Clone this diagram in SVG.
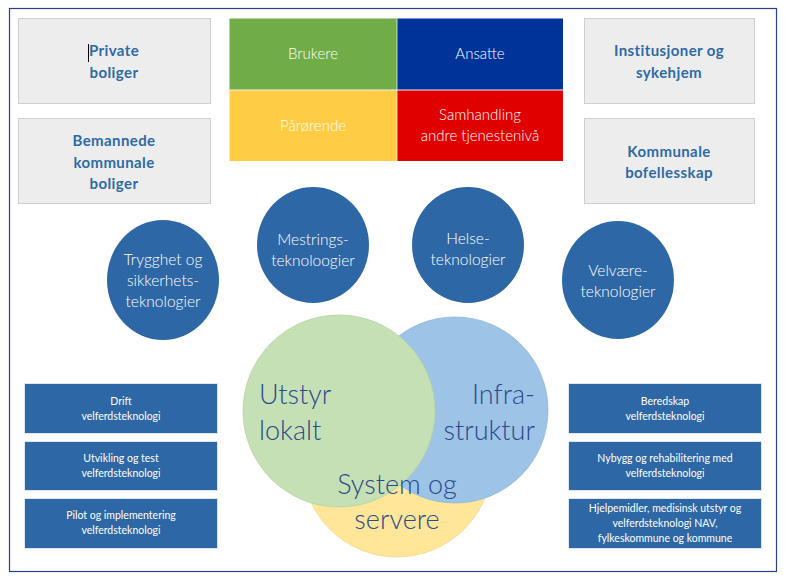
<svg xmlns="http://www.w3.org/2000/svg" width="787" height="584" viewBox="0 0 787 584">
<style>
.gbox{fill:#ededed;stroke:#cfcfcf;stroke-width:1}
.gtxt{font-family:Lato,"Open Sans","Liberation Sans",sans-serif;font-weight:700;font-size:15px;fill:#2e6aa6;text-anchor:middle;letter-spacing:0.4px}
.ctxt{font-family:Lato,"Open Sans","Liberation Sans",sans-serif;font-weight:300;font-size:15.5px;fill:#ffffff;text-anchor:middle}
.circ{fill:#2e67a5}
.sbox{fill:#2e67a5;stroke:#dfe6ef;stroke-width:1}
.stxt{font-family:Lato,"Open Sans","Liberation Sans",sans-serif;font-weight:400;font-size:10.5px;fill:#ffffff;text-anchor:middle}
.vtxt{font-family:Lato,"Open Sans","Liberation Sans",sans-serif;font-weight:300;font-size:27px;fill:#2a4a8c}
</style>
<rect x="0" y="0" width="787" height="584" fill="#ffffff"/>
<rect x="9.5" y="8.5" width="767" height="563" fill="none" stroke="#2a3f8f" stroke-width="1.2"/>

<g id="private-boliger">
<rect class="gbox" x="18.5" y="18.5" width="192" height="85"/>
<text class="gtxt" x="114" y="56">Private</text>
<text class="gtxt" x="114" y="78">boliger</text>
<line x1="88.5" y1="44" x2="88.5" y2="62" stroke="#000" stroke-width="1"/>
</g>
<g id="bemannede">
<rect class="gbox" x="18.5" y="118.5" width="192" height="85"/>
<text class="gtxt" x="114" y="146">Bemannede</text>
<text class="gtxt" x="114" y="168">kommunale</text>
<text class="gtxt" x="114" y="189">boliger</text>
</g>
<g id="institusjoner">
<rect class="gbox" x="584.5" y="18.5" width="170" height="85"/>
<text class="gtxt" x="669" y="56">Institusjoner og</text>
<text class="gtxt" x="669" y="78">sykehjem</text>
</g>
<g id="bofellesskap">
<rect class="gbox" x="584.5" y="118.5" width="170" height="85"/>
<text class="gtxt" x="669" y="157">Kommunale</text>
<text class="gtxt" x="669" y="178">bofellesskap</text>
</g>

<g id="brukere">
<rect x="229.5" y="18.5" width="167.5" height="71.5" fill="#70ad47"/>
<text class="ctxt" x="313" y="59" style="font-size:15px">Brukere</text>
</g>
<g id="ansatte">
<rect x="397" y="18.5" width="166" height="71.5" fill="#003399"/>
<text class="ctxt" x="480" y="59" style="font-size:15px">Ansatte</text>
</g>
<g id="parorende">
<rect x="229.5" y="90" width="167.5" height="71" fill="#ffcc44"/>
<text class="ctxt" x="313" y="131" style="font-size:15px">Pårørende</text>
</g>
<g id="samhandling">
<rect x="397" y="90" width="166" height="71" fill="#e00000"/>
<text class="ctxt" x="480" y="120" style="font-size:15px">Samhandling</text>
<text class="ctxt" x="480" y="141" style="font-size:15px">andre tjenestenivå</text>
</g>
<line x1="229.5" y1="90" x2="563" y2="90" stroke="#f0f0f0" stroke-width="1"/>
<line x1="397" y1="18.5" x2="397" y2="161" stroke="#f0f0f0" stroke-width="0.8"/>

<g id="trygghet">
<ellipse class="circ" cx="163" cy="280" rx="56" ry="60"/>
<text class="ctxt" x="163" y="265">Trygghet og</text>
<text class="ctxt" x="163" y="286">sikkerhets-</text>
<text class="ctxt" x="163" y="307">teknologier</text>
</g>
<g id="mestrings">
<ellipse class="circ" cx="313" cy="245" rx="56" ry="58"/>
<text class="ctxt" x="313" y="245">Mestrings-</text>
<text class="ctxt" x="313" y="266">teknoloogier</text>
</g>
<g id="helse">
<ellipse class="circ" cx="468" cy="245" rx="56" ry="58"/>
<text class="ctxt" x="468" y="244">Helse-</text>
<text class="ctxt" x="468" y="265">teknologier</text>
</g>
<g id="velvaere">
<ellipse class="circ" cx="618" cy="280" rx="56" ry="59"/>
<text class="ctxt" x="618" y="276">Velvære-</text>
<text class="ctxt" x="618" y="297">teknologier</text>
</g>

<g id="system-og-servere">
<circle cx="397" cy="462" r="95" fill="#ffe699" stroke="#f2d88a" stroke-width="0.8"/>
</g>
<g id="infrastruktur">
<circle cx="455" cy="410" r="93" fill="#9dc3e6" stroke="#90b7dc" stroke-width="0.8"/>
</g>
<g id="utstyr-lokalt">
<circle cx="339" cy="411" r="96" fill="#c5e0b4" stroke="#b5d3a2" stroke-width="0.8"/>
</g>
<g id="venn-labels">
<text class="vtxt" x="259" y="404">Utstyr</text>
<text class="vtxt" x="259" y="440">lokalt</text>
<text class="vtxt" x="535" y="404" text-anchor="end">Infra-</text>
<text class="vtxt" x="535" y="440" text-anchor="end">struktur</text>
<text class="vtxt" x="397" y="494" text-anchor="middle">System og</text>
<text class="vtxt" x="397" y="529" text-anchor="middle">servere</text>
</g>

<g id="drift">
<rect class="sbox" x="24.5" y="383.5" width="193" height="50"/>
<text class="stxt" x="121" y="405">Drift</text>
<text class="stxt" x="121" y="420">velferdsteknologi</text>
</g>
<g id="utvikling">
<rect class="sbox" x="24.5" y="441.5" width="193" height="49"/>
<text class="stxt" x="121" y="462">Utvikling og test</text>
<text class="stxt" x="121" y="477">velferdsteknologi</text>
</g>
<g id="pilot">
<rect class="sbox" x="24.5" y="498.5" width="193" height="50"/>
<text class="stxt" x="121" y="519">Pilot og implementering</text>
<text class="stxt" x="121" y="534">velferdsteknologi</text>
</g>
<g id="beredskap">
<rect class="sbox" x="568.5" y="383.5" width="193" height="50"/>
<text class="stxt" x="665" y="405">Beredskap</text>
<text class="stxt" x="665" y="420">velferdsteknologi</text>
</g>
<g id="nybygg">
<rect class="sbox" x="568.5" y="441.5" width="193" height="49"/>
<text class="stxt" x="665" y="462">Nybygg og rehabilitering med</text>
<text class="stxt" x="665" y="477">velferdsteknologi</text>
</g>
<g id="hjelpemidler">
<rect class="sbox" x="568.5" y="498.5" width="193" height="50"/>
<text class="stxt" x="665" y="512">Hjelpemidler, medisinsk utstyr og</text>
<text class="stxt" x="665" y="527">velferdsteknologi NAV,</text>
<text class="stxt" x="665" y="542">fylkeskommune og kommune</text>
</g>
<g id="connectors"></g>
</svg>
